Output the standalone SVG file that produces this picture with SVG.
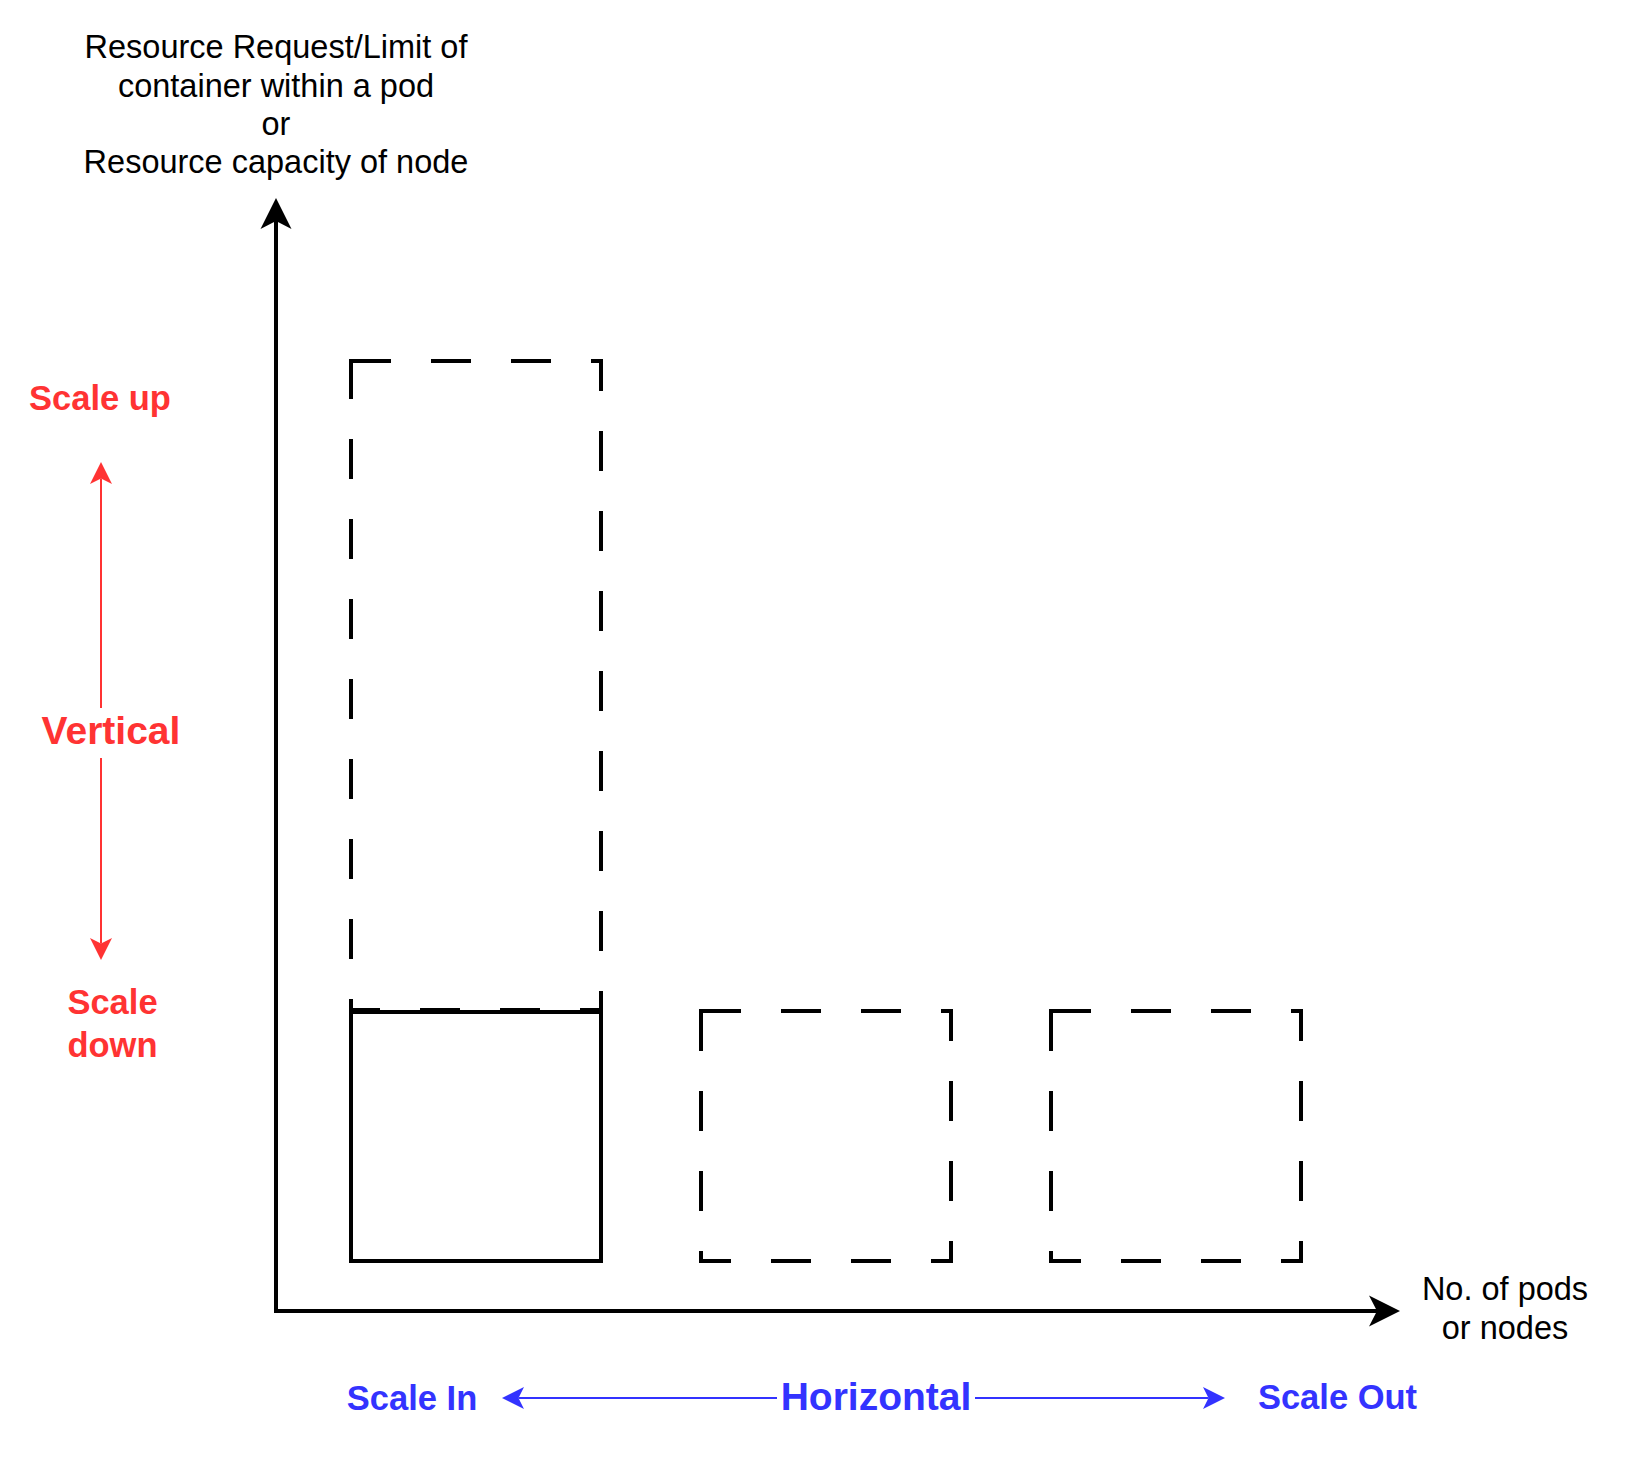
<svg xmlns="http://www.w3.org/2000/svg" width="1625" height="1460" viewBox="0 0 1625 1460">
<style>
.t{font-family:"Liberation Sans",Arial,Helvetica,sans-serif;fill:#000;text-anchor:middle}
.tn{font-size:32.5px}
.red{fill:#FF3333;font-weight:bold}
.blue{fill:#3333FF;font-weight:bold}
.box{fill:none;stroke:#000;stroke-width:4}
.dash{stroke-dasharray:40 40}
.ax{stroke:#000;stroke-width:4;fill:none}
.ra{stroke:#FF3333;stroke-width:2;fill:none}
.ba{stroke:#3333FF;stroke-width:2;fill:none}
</style>
<defs>
<marker id="mBlack" markerUnits="userSpaceOnUse" markerWidth="60" markerHeight="60" refX="0" refY="0" orient="auto" overflow="visible">
<path d="M23,0 L-8,-15.5 L0,0 L-8,15.5 Z" fill="#000"/>
</marker>
<marker id="mRed" markerUnits="userSpaceOnUse" markerWidth="40" markerHeight="40" refX="0" refY="0" orient="auto" overflow="visible">
<path d="M16.5,0 L-5.5,-11 L0,0 L-5.5,11 Z" fill="#FF3333"/>
</marker>
<marker id="mBlue" markerUnits="userSpaceOnUse" markerWidth="40" markerHeight="40" refX="0" refY="0" orient="auto" overflow="visible">
<path d="M16.5,0 L-5.5,-11 L0,0 L-5.5,11 Z" fill="#3333FF"/>
</marker>
</defs>
<rect x="0" y="0" width="1625" height="1460" fill="#fff"/>

<g id="connectors">
<line class="ax" x1="276" y1="1313" x2="276" y2="221" marker-end="url(#mBlack)"/>
<line class="ax" x1="274" y1="1311" x2="1377" y2="1311" marker-end="url(#mBlack)"/>
<line class="ra" x1="101" y1="708" x2="101" y2="478.5" marker-end="url(#mRed)"/>
<line class="ra" x1="101" y1="758" x2="101" y2="943.5" marker-end="url(#mRed)"/>
<line class="ba" x1="777" y1="1398" x2="518.5" y2="1398" marker-end="url(#mBlue)"/>
<line class="ba" x1="975" y1="1398" x2="1208.5" y2="1398" marker-end="url(#mBlue)"/>
</g>

<g id="pod-current">
<rect class="box" x="351" y="1012" width="250" height="249"/>
</g>
<g id="pod-scaled-up">
<rect class="box dash" x="351" y="361" width="250" height="649"/>
</g>
<g id="pod-replica-1">
<rect class="box dash" x="701" y="1011" width="250" height="250"/>
</g>
<g id="pod-replica-2">
<rect class="box dash" x="1051" y="1011" width="250" height="250"/>
</g>

<g id="y-axis-label">
<text class="t tn" x="276" y="58">Resource Request/Limit of</text>
<text class="t tn" x="276" y="96.5">container within a pod</text>
<text class="t tn" x="276" y="135">or</text>
<text class="t tn" x="276" y="173">Resource capacity of node</text>
</g>
<g id="x-axis-label">
<text class="t tn" x="1505" y="1300">No. of pods</text>
<text class="t tn" x="1505" y="1339">or nodes</text>
</g>

<g id="scale-up">
<text class="t red" x="100" y="410" font-size="34.5">Scale up</text>
</g>
<g id="vertical">
<text class="t red" x="111" y="744" font-size="39">Vertical</text>
</g>
<g id="scale-down">
<text class="t red" x="112.5" y="1014" font-size="34.5">Scale</text>
<text class="t red" x="112.5" y="1057" font-size="34.5">down</text>
</g>
<g id="scale-in">
<text class="t blue" x="412" y="1410" font-size="34.5">Scale In</text>
</g>
<g id="horizontal">
<text class="t blue" x="876" y="1410" font-size="39">Horizontal</text>
</g>
<g id="scale-out">
<text class="t blue" x="1337.5" y="1409" font-size="34.5">Scale Out</text>
</g>
</svg>
